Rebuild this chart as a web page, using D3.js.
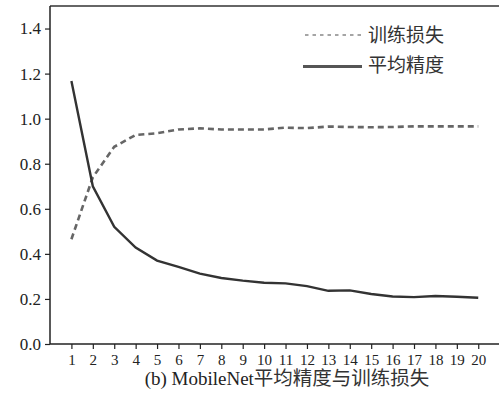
<!DOCTYPE html>
<html><head><meta charset="utf-8">
<script src="https://cdn.jsdelivr.net/npm/d3@7"></script>
</head><body style="margin:0">
<svg id="c" width="499" height="397" style="font-family:'Liberation Serif'"></svg>
<script>
const epochs = d3.range(1, 21);
const lossValues = [0.465, 0.74, 0.875, 0.928, 0.935, 0.952, 0.957, 0.952, 0.952, 0.952, 0.96, 0.958, 0.965, 0.963, 0.962, 0.963, 0.966, 0.966, 0.966, 0.966];
const apValues = [1.167, 0.70, 0.52, 0.428, 0.37, 0.342, 0.312, 0.293, 0.281, 0.272, 0.269, 0.257, 0.236, 0.238, 0.222, 0.211, 0.208, 0.213, 0.210, 0.205];
const yTicks = [0.0, 0.2, 0.4, 0.6, 0.8, 1.0, 1.2, 1.4];
const seriesNames = ["训练损失", "平均精度"];
const captionLatin = "(b) MobileNet";
const captionCjk = "平均精度与训练损失";

const svg = d3.select("#c");
const L = 50, T = 6, B = 344, R = 520;
const x = d3.scaleLinear().domain([0, 21.95]).range([L, R]);
const y = d3.scaleLinear().domain([0, 1.5]).range([B, T]);

function serifText(sel, size) {
  sel.attr("font-family", "Liberation Serif").style("font-family", "'Liberation Serif'")
     .attr("font-size", size).attr("fill", "#222");
}
function cjkText(sel, size) {
  sel.attr("font-family", "Noto Sans CJK SC").style("font-family", "'Noto Sans CJK SC'")
     .attr("font-size", size);
}

svg.append("line").attr("x1", L).attr("x2", 499).attr("y1", T).attr("y2", T)
  .attr("stroke", "#333").attr("stroke-width", 1.5);

const yAxis = svg.append("g").attr("transform", `translate(${L},0)`)
  .call(d3.axisLeft(y).tickValues(yTicks).tickFormat(d3.format(".1f")).tickSize(5).tickSizeOuter(0));
yAxis.attr("font-family", "Liberation Serif");
yAxis.select(".domain").attr("stroke", "#222").attr("stroke-width", 1.5).attr("d", `M0,${T}V${B}`);
yAxis.selectAll("line").attr("stroke", "#222").attr("stroke-width", 1.2);
yAxis.selectAll("text").call(serifText, 17).attr("x", -9);

const xAxis = svg.append("g").attr("transform", `translate(0,${B})`)
  .call(d3.axisBottom(x).tickValues(epochs).tickFormat(d3.format("d")).tickSize(5).tickSizeOuter(0));
xAxis.attr("font-family", "Liberation Serif");
xAxis.select(".domain").attr("stroke", "#222").attr("stroke-width", 1.5).attr("d", `M${L},0H499`);
xAxis.selectAll("line").attr("stroke", "#222").attr("stroke-width", 1.2);
xAxis.selectAll("text").call(serifText, 15).attr("y", 10);

const line = d3.line().x((d, i) => x(epochs[i])).y(d => y(d));

svg.append("path").datum(lossValues).attr("d", line).attr("fill", "none")
  .attr("stroke", "#666").attr("stroke-width", 2.6).attr("stroke-dasharray", "6,4");
svg.append("path").datum(apValues).attr("d", line).attr("fill", "none")
  .attr("stroke", "#333").attr("stroke-width", 2.4);

const lg = svg.append("g");
lg.append("line").attr("x1", 305).attr("x2", 361).attr("y1", 35).attr("y2", 35)
  .attr("stroke", "#888").attr("stroke-width", 1.3).attr("stroke-dasharray", "3.5,4");
lg.append("line").attr("x1", 303).attr("x2", 362).attr("y1", 66.5).attr("y2", 66.5)
  .attr("stroke", "#555").attr("stroke-width", 3);
lg.append("text").attr("x", 368).attr("y", 42).text(seriesNames[0]).call(cjkText, 19).attr("fill", "#333");
lg.append("text").attr("x", 368).attr("y", 72).text(seriesNames[1]).call(cjkText, 19).attr("fill", "#333");

const cap = svg.append("text").attr("x", 287).attr("y", 385).attr("text-anchor", "middle").attr("fill", "#222");
cap.append("tspan").call(serifText, 19).text(captionLatin);
cap.append("tspan").call(cjkText, 19.5).attr("fill", "#333").text(captionCjk);
</script>
</body></html>
